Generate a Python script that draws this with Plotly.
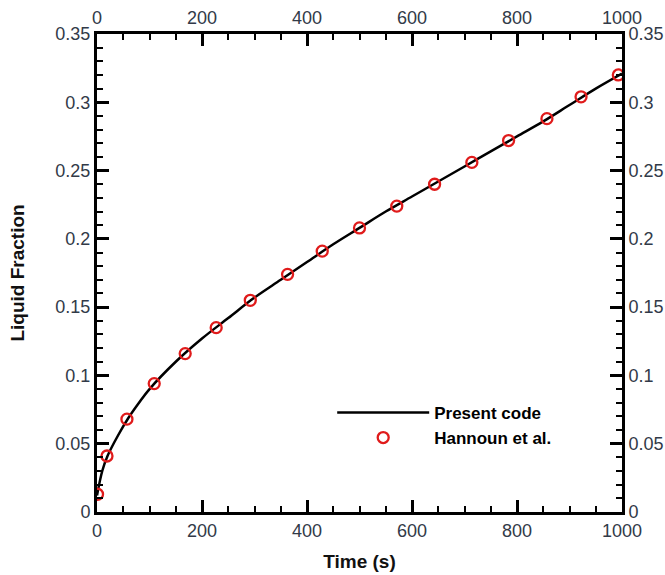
import plotly.graph_objects as go

# Present code (line)
line_t = [0, 10, 20, 40, 60, 80, 100, 150, 200, 250, 300, 350, 400, 450, 500,
          550, 600, 650, 700, 750, 800, 850, 900, 950, 1000]
line_f = [0.012, 0.030, 0.041, 0.056, 0.069, 0.080, 0.090, 0.110, 0.127, 0.142,
          0.157, 0.170, 0.183, 0.196, 0.208, 0.220, 0.231, 0.242, 0.253, 0.264,
          0.275, 0.286, 0.298, 0.310, 0.321]

# Hannoun et al. (circles)
ref_t = [1, 19, 57, 109, 168, 227, 292, 363, 429, 500, 571, 643, 714, 784, 857, 922, 993]
ref_f = [0.013, 0.041, 0.068, 0.094, 0.116, 0.135, 0.155, 0.174, 0.191, 0.208,
         0.224, 0.240, 0.256, 0.272, 0.288, 0.304, 0.320]

x_range = [0, 1000]
y_range = [0, 0.35]
x_ticks = [0, 200, 400, 600, 800, 1000]
y_ticks = [0, 0.05, 0.1, 0.15, 0.2, 0.25, 0.3, 0.35]
y_ticktext = ["0", "0.05", "0.1", "0.15", "0.2", "0.25", "0.3", "0.35"]

FONT = "Liberation Sans, Arial, sans-serif"
TICKCOL = "#323a48"
RED = "#e01b1b"

fig = go.Figure()
fig.add_trace(go.Scatter(x=line_t, y=line_f, mode="lines", name="<b>Present code</b>",
                         line=dict(color="black", width=2.5), line_shape="spline"))
fig.add_trace(go.Scatter(x=ref_t, y=ref_f, mode="markers", name="<b>Hannoun et al.</b>",
                         marker=dict(symbol="circle-open", size=11, color=RED,
                                     line=dict(width=2.3, color=RED))))
# helper invisible trace for top/right axes
fig.add_trace(go.Scatter(x=[x_range[0]], y=[y_range[0]], xaxis="x2", yaxis="y2",
                         mode="markers", marker=dict(opacity=0), showlegend=False,
                         hoverinfo="skip"))

common = dict(showline=True, linecolor="black", linewidth=3, showgrid=False,
              zeroline=False, ticks="inside", ticklen=12, tickwidth=3,
              tickcolor="black", automargin=False,
              tickfont=dict(family=FONT, size=18, color=TICKCOL))
xminor = dict(ticks="inside", ticklen=6, tickwidth=1.5, dtick=50, tickcolor="black")
yminor = dict(ticks="inside", ticklen=6, tickwidth=1.5, dtick=0.01, tickcolor="black")
TITLEFONT = dict(family=FONT, size=19, color="#111")

fig.update_layout(
    width=665, height=575,
    margin=dict(l=97, r=43, t=34, b=63, autoexpand=False),
    plot_bgcolor="white", paper_bgcolor="white",
    xaxis=dict(range=x_range, tickvals=x_ticks, **common, minor=xminor,
               title=dict(text="<b>Time (s)</b>", font=TITLEFONT, standoff=16)),
    yaxis=dict(range=y_range, tickvals=y_ticks, ticktext=y_ticktext, **common,
               minor=yminor,
               title=dict(text="<b>Liquid Fraction</b>", font=TITLEFONT, standoff=26)),
    xaxis2=dict(range=x_range, tickvals=x_ticks, overlaying="x", side="top",
                anchor="y", **common, minor=xminor),
    yaxis2=dict(range=y_range, tickvals=y_ticks, ticktext=y_ticktext, overlaying="y",
                side="right", anchor="x", **common, minor=yminor),
    legend=dict(x=0.448, y=0.245, xanchor="left", yanchor="top",
                bgcolor="rgba(0,0,0,0)", itemwidth=92, tracegroupgap=0,
                font=dict(family=FONT, size=17, color="black")),
    showlegend=True,
)

fig.write_html("out.html")
